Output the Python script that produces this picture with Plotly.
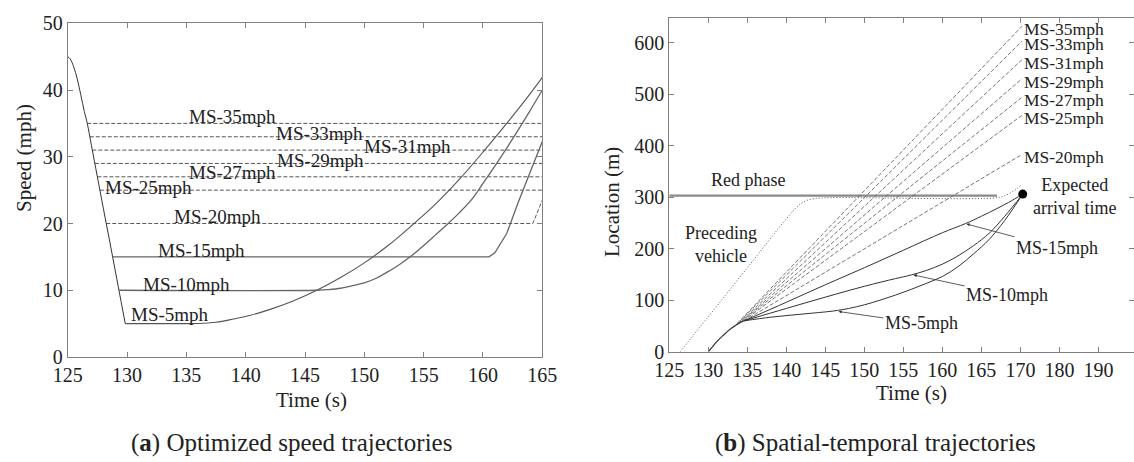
import numpy as np
import plotly.graph_objects as go

# ---------------- (a) speed trajectories ----------------
decel_t = [125.0, 125.2, 125.5, 125.8, 126.1, 126.4, 126.65, 127.0, 127.5, 128.0, 128.5, 129.0, 129.5, 129.85]
decel_v = [45.0, 44.7, 43.5, 41.7, 39.3, 36.8, 35.0, 31.7, 27.0, 22.3, 17.7, 13.0, 8.3, 5.0]

cruise_levels = [35, 33, 31, 29, 27, 25]   # flat dashed speeds to the end

ms20_t = [164.2, 165.0]
ms20_v = [20.0, 23.5]

ms15_t = [160.5, 161.0, 161.5, 162.0, 163.0, 164.0, 165.0]
ms15_v = [15.0, 15.6, 17.0, 18.5, 23.3, 27.8, 32.3]

ms10_t = [146, 147, 148, 149, 150, 151, 152, 153, 154, 155, 156, 157, 158, 159, 160, 161, 162, 163, 164, 165]
ms10_v = [10.0, 10.1, 10.3, 10.7, 11.1, 11.8, 12.8, 13.9, 15.2, 16.7, 18.3, 19.9, 21.6, 23.5, 26.0, 28.6, 31.3, 34.1, 37.0, 40.0]

ms5_t = [134, 136, 137.5, 139, 140.5, 142, 144, 146, 148, 150, 152, 154, 156, 158, 160, 162, 164, 165]
ms5_v = [5.0, 5.02, 5.2, 5.7, 6.3, 7.1, 8.4, 10.0, 11.9, 14.1, 16.7, 19.7, 22.9, 26.6, 30.7, 35.0, 39.5, 41.9]

# label text and where it sits (time, speed)
a_labels = ["MS-35mph", "MS-33mph", "MS-31mph", "MS-29mph", "MS-27mph", "MS-25mph",
            "MS-20mph", "MS-15mph", "MS-10mph", "MS-5mph"]
a_label_t = [138.9, 146.2, 153.6, 146.3, 138.9, 131.8, 137.6, 136.3, 135.0, 133.6]
a_label_v = [36.1, 33.5, 31.6, 29.5, 27.6, 25.4, 21.0, 16.0, 10.9, 6.3]

# ---------------- (b) spatial-temporal trajectories ----------------
approach_t = [130.0, 130.5, 131.0, 131.5, 132.0, 132.5, 133.0, 133.5, 134.0, 134.6]
approach_x = [0, 9, 18, 26, 33, 40, 46, 51, 56, 60]

prec_t = [126.4, 130, 135, 140, 141.5, 142.5, 143.5, 145, 167, 168, 169, 170.2]
prec_x = [0, 68, 163, 258, 283, 293, 297, 299, 299, 303, 311, 324]

red_t = [125.0, 167.0]
red_x = [303, 303]

dash_names = ["MS-35mph", "MS-33mph", "MS-31mph", "MS-29mph", "MS-27mph", "MS-25mph", "MS-20mph"]
dash_t0 = [133.2, 133.5, 133.8, 134.1, 134.3, 134.5, 134.6]
dash_x0 = [47, 51, 54, 57, 59, 60, 60]
dash_t1 = [170.2] * 7
dash_x1 = [632, 603, 567, 530, 494, 459, 383]

loc15_t = [134.6, 140, 145, 150, 155, 160, 163, 165, 167, 168.5, 170.3]
loc15_x = [60, 96, 130, 163, 197, 231, 249, 263, 278, 290, 306]

loc10_t = [134.6, 140, 145, 150, 154, 156, 158, 160, 162, 164, 166, 168, 170.3]
loc10_x = [60, 84, 106, 127, 142, 149, 158, 170, 186, 206, 230, 263, 306]

loc5_t = [134.6, 138, 142, 146, 148, 150, 152, 154, 156, 158, 160, 162, 164, 166, 168, 170.3]
loc5_x = [60, 67, 73, 79, 84, 91, 100, 110, 121, 133, 146, 165, 190, 218, 255, 306]

arrival_t = [170.3]
arrival_x = [306]

b_xticks = [125, 130, 135, 140, 145, 150, 155, 160, 165, 170, 175, 180]
b_xticktext = ["125", "130", "135", "140", "145", "150", "155", "160", "165", "170", "180", "190"]

FONT = "Liberation Serif, Times New Roman, serif"
DARK = "#333333"
GRID = "#808080"

fig = go.Figure()

def line(x, y, xa, ya, color=DARK, width=1.0, dash="solid", shape="linear"):
    fig.add_trace(go.Scatter(x=x, y=y, mode="lines", xaxis=xa, yaxis=ya,
                             line=dict(color=color, width=width, dash=dash, shape=shape),
                             hoverinfo="skip", showlegend=False))

# panel (a)
dv = np.array(decel_v)[::-1]
dt = np.array(decel_t)[::-1]
start = lambda v: float(np.interp(v, dv, dt))

line(decel_t, decel_v, "x", "y", shape="spline")
for lv in cruise_levels:
    line([start(lv), 165], [lv, lv], "x", "y", color="#444444", width=0.9, dash="4px,2px")
line([start(20)] + ms20_t, [20] + ms20_v, "x", "y", color="#444444", width=0.9, dash="4px,2px")
line([start(15)] + ms15_t, [15] + ms15_v, "x", "y", color="#666666", width=1.3)
line([start(10)] + ms10_t, [10] + ms10_v, "x", "y", color="#666666", width=1.3, shape="spline")
line([start(5)] + ms5_t, [5] + ms5_v, "x", "y", color="#555555", width=1.1, shape="spline")

# panel (b)
line(red_t, red_x, "x2", "y2", color="#8a8a8a", width=2.2)
line(prec_t, prec_x, "x2", "y2", color="#555555", width=1, dash="1px,2px", shape="spline")
for i in range(len(dash_names)):
    line([dash_t0[i], dash_t1[i]], [dash_x0[i], dash_x1[i]], "x2", "y2",
         color="#666666", width=0.9, dash="4px,2px")
line(approach_t, approach_x, "x2", "y2", width=1.2, shape="spline")
line(loc15_t, loc15_x, "x2", "y2", width=1, shape="spline")
line(loc10_t, loc10_x, "x2", "y2", width=1, shape="spline")
line(loc5_t, loc5_x, "x2", "y2", width=1, shape="spline")
fig.add_trace(go.Scatter(x=arrival_t, y=arrival_x, mode="markers", xaxis="x2", yaxis="y2",
                         marker=dict(color="black", size=9), hoverinfo="skip", showlegend=False))

ann = []
for txt, t, v in zip(a_labels, a_label_t, a_label_v):
    ann.append(dict(x=t, y=v, xref="x", yref="y", text=txt, showarrow=False,
                    font=dict(size=19)))
for i, txt in enumerate(dash_names):
    ann.append(dict(x=dash_t1[i], y=dash_x1[i], xref="x2", yref="y2", text=txt,
                    showarrow=False, xanchor="left", yshift=-3, font=dict(size=17.5)))
ann.append(dict(x=135.1, y=334, xref="x2", yref="y2", text="Red phase", showarrow=False, font=dict(size=18)))
ann.append(dict(x=131.6, y=209, xref="x2", yref="y2", text="Preceding<br>vehicle", showarrow=False,
                font=dict(size=18)))
ann.append(dict(x=177.0, y=302, xref="x2", yref="y2", text="Expected<br>arrival time", showarrow=False,
                font=dict(size=18)))
for txt, tip, txtpos in [("MS-15mph", (163.1, 248), (174.7, 201)),
                         ("MS-10mph", (156.3, 149), (168.3, 110)),
                         ("MS-5mph", (146.7, 78), (157.3, 55))]:
    ann.append(dict(x=tip[0], y=tip[1], xref="x2", yref="y2", ax=txtpos[0], ay=txtpos[1],
                    axref="x2", ayref="y2", text=txt, showarrow=True, arrowhead=2,
                    arrowsize=0.8, arrowwidth=0.8, arrowcolor=DARK, font=dict(size=18)))

# axis titles and captions
W, H = 1134, 462
def pa(px, py, txt, size, angle=0):
    ann.append(dict(x=px / W, y=1 - py / H, xref="paper", yref="paper", text=txt, showarrow=False,
                    xanchor="center", yanchor="middle", textangle=angle, font=dict(size=size)))
pa(311, 400, "Time (s)", 21)
pa(911, 393, "Time (s)", 21)
pa(24, 158, "Speed (mph)", 21, -90)
pa(612, 202, "Location (m)", 21, -90)
pa(291, 443, "(<b>a</b>) Optimized speed trajectories", 25)
pa(875, 443, "(<b>b</b>) Spatial-temporal trajectories", 25)

axis_style = dict(showline=True, linecolor=GRID, linewidth=1, mirror="ticks", ticks="inside",
                  ticklen=5, tickcolor=GRID, showgrid=False, zeroline=False,
                  tickfont=dict(size=20, color="#222"))

fig.update_layout(
    width=W, height=H, margin=dict(l=0, r=0, t=0, b=0, autoexpand=False),
    paper_bgcolor="white", plot_bgcolor="white",
    font=dict(family=FONT, color="#222"),
    xaxis=dict(domain=[67.7 / W, 542.3 / W], range=[125, 165], tickvals=list(range(125, 166, 5)),
               anchor="y", **axis_style),
    yaxis=dict(domain=[1 - 357 / H, 1 - 23.3 / H], range=[0, 50], tickvals=[0, 10, 20, 30, 40, 50],
               anchor="x", **axis_style),
    xaxis2=dict(domain=[669.3 / W, 1133.5 / W], range=[125, 184.5], tickvals=b_xticks,
                ticktext=b_xticktext, anchor="y2", **axis_style),
    yaxis2=dict(domain=[1 - 351.7 / H, 1 - 18 / H], range=[0, 648], tickvals=[0, 100, 200, 300, 400, 500, 600],
                anchor="x2", **axis_style),
    annotations=ann,
)

# page body has a default 8px margin; drop it so the figure fills the window
fig.write_html("out.html", config={"displayModeBar": False},
               post_script="document.body.style.margin='0px';document.body.style.overflow='hidden';")
